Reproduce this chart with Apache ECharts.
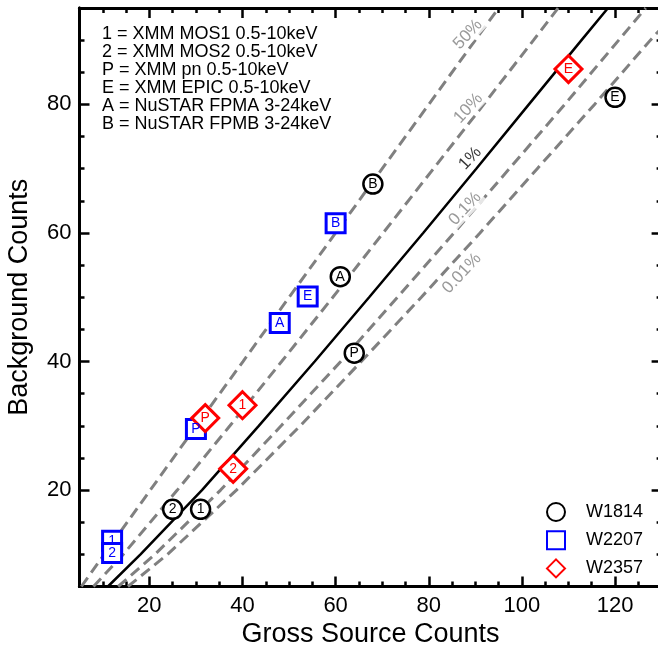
<!DOCTYPE html>
<html>
<head>
<meta charset="utf-8">
<script src="https://cdn.jsdelivr.net/npm/echarts@6/dist/echarts.min.js"></script>
<style>
  html, body { margin: 0; padding: 0; background: #fff; }
  #chart { width: 658px; height: 646px; }
</style>
</head>
<body>
<div id="chart"></div>
<script>
// Axis ticks
const grossMajor = [20, 40, 60, 80, 100, 120];
const grossMinor = [10, 15, 25, 30, 35, 45, 50, 55, 65, 70, 75, 85, 90, 95, 105, 110, 115, 125];
const bkgMajor = [20, 40, 60, 80];
const bkgMinor = [10, 15, 25, 30, 35, 45, 50, 55, 65, 70, 75, 85, 90];

// Probability curves: [gross source counts, background counts]
const curve50  = [[5.4, 5], [10.3, 10], [20.2, 20], [30.1, 30], [40.1, 40], [50.0, 50], [60.0, 60], [70.0, 70], [80.0, 80], [90.0, 90], [95.0, 95]];
const curve10  = [[8.0, 5], [14.4, 10], [26.0, 20], [37.3, 30], [48.4, 40], [59.4, 50], [70.2, 60], [81.0, 70], [91.8, 80], [102.5, 90], [107.8, 95]];
const curve1   = [[11.1, 5], [18.1, 10], [31.3, 20], [43.5, 30], [55.5, 40], [67.2, 50], [78.8, 60], [90.2, 70], [101.5, 80], [112.8, 90], [118.5, 95]];
const curve01  = [[13.3, 5], [21.2, 10], [35.3, 20], [48.3, 30], [61.1, 40], [73.3, 50], [85.4, 60], [97.3, 70], [109.2, 80], [120.8, 90], [126.6, 95]];
const curve001 = [[15.4, 5], [23.9, 10], [38.7, 20], [52.4, 30], [65.5, 40], [78.4, 50], [91.0, 60], [103.3, 70], [115.6, 80], [127.6, 90], [130.0, 91.9]];

// Curve captions and where they sit
const curveCaptions = ['50%', '10%', '1%', '0.1%', '0.01%'];
const captionGross  = [88.4, 88.5, 88.9, 87.8, 87.1];
const captionBkg    = [90.9, 79.4, 71.6, 63.8, 53.7];

// Sources: gross counts, background counts, instrument tag
const w1814Gross = [31, 25, 64, 61, 68, 120];
const w1814Bkg   = [17.0, 17.0, 41.3, 53.2, 67.6, 81.1];
const w1814Tag   = ['1', '2', 'P', 'A', 'B', 'E'];

const w2207Gross = [12, 12, 30, 48, 54, 60];
const w2207Bkg   = [12.1, 10.2, 29.5, 46.0, 50.1, 61.5];
const w2207Tag   = ['1', '2', 'P', 'A', 'E', 'B'];

const w2357Gross = [38, 40, 32, 110];
const w2357Bkg   = [23.3, 33.2, 31.2, 85.5];
const w2357Tag   = ['2', '1', 'P', 'E'];

const keyLines = [
  '1 = XMM MOS1 0.5-10keV',
  '2 = XMM MOS2 0.5-10keV',
  'P = XMM pn 0.5-10keV',
  'E = XMM EPIC 0.5-10keV',
  'A = NuSTAR FPMA 3-24keV',
  'B = NuSTAR FPMB 3-24keV'
];

const FONT = '"Liberation Sans", Arial, Helvetica, sans-serif';
const GRAY = '#808080';

function zip(xs, ys, tags) {
  return xs.map((x, i) => [x, ys[i], tags[i]]);
}

function makeAxis(dim, position, ticks, len, withLabels) {
  const isX = dim === 'x';
  const ax = {
    type: 'value',
    position: position,
    min: 5,
    max: isX ? 130 : 95,
    splitLine: { show: false },
    axisLine: { show: true, onZero: false, lineStyle: { color: '#000', width: 3 } },
    axisTick: { show: true, inside: true, length: len, customValues: ticks, lineStyle: { color: '#000', width: 2.5 } },
    axisLabel: withLabels
      ? { show: true, customValues: ticks, color: '#000', fontSize: 22, fontFamily: FONT, margin: 8 }
      : { show: false }
  };
  if (withLabels) {
    ax.name = isX ? 'Gross Source Counts' : 'Background Counts';
    ax.nameLocation = 'middle';
    ax.nameGap = isX ? 31 : 46;
    ax.nameTextStyle = { color: '#000', fontSize: 27, fontFamily: FONT };
  }
  return ax;
}

function curveSeries(name, data, color, dashed) {
  return {
    name: name,
    type: 'line',
    data: data,
    showSymbol: false,
    silent: true,
    clip: true,
    z: 1,
    lineStyle: { color: color, width: dashed ? 3 : 2.5, type: dashed ? [11, 6] : 'solid' }
  };
}

function sourceSeries(name, data, symbol, size, color, bw) {
  return {
    name: name,
    type: 'scatter',
    data: data,
    symbol: symbol,
    symbolSize: size,
    z: 4,
    itemStyle: { color: '#fff', borderColor: color, borderWidth: bw, opacity: 1 },
    label: {
      show: true, position: 'inside', color: color, fontSize: 14, fontFamily: FONT,
      formatter: p => p.value[2]
    }
  };
}

const chart = echarts.init(document.getElementById('chart'), null, { renderer: 'canvas' });

chart.setOption({
  animation: false,
  backgroundColor: '#fff',
  textStyle: { fontFamily: FONT },
  title: {
    text: keyLines.join('\n'),
    left: 102,
    top: 25.5,
    padding: 0,
    textStyle: { color: '#000', fontSize: 18, fontWeight: 'normal', lineHeight: 18, fontFamily: FONT }
  },
  legend: {
    data: ['W1814', 'W2207', 'W2357'],
    orient: 'vertical',
    left: 546,
    top: 502,
    padding: 0,
    itemWidth: 18,
    itemHeight: 18,
    itemGap: 8.2,
    selectedMode: false,
    textStyle: { color: '#000', fontSize: 18, lineHeight: 18, fontFamily: FONT, padding: [0, 0, 0, 16] }
  },
  grid: { left: 79.5, right: -3.6, top: 8, bottom: 59.5, outerBoundsMode: 'none' },
  xAxis: [
    makeAxis('x', 'bottom', grossMajor, 10, true),
    makeAxis('x', 'bottom', grossMinor, 5, false),
    makeAxis('x', 'top', grossMajor, 10, false),
    makeAxis('x', 'top', grossMinor, 5, false)
  ],
  yAxis: [
    makeAxis('y', 'left', bkgMajor, 10, true),
    makeAxis('y', 'left', bkgMinor, 5, false),
    makeAxis('y', 'right', bkgMajor, 10, false),
    makeAxis('y', 'right', bkgMinor, 5, false)
  ],
  series: [
    curveSeries('50%', curve50, GRAY, true),
    curveSeries('10%', curve10, GRAY, true),
    curveSeries('1%', curve1, '#000', false),
    curveSeries('0.1%', curve01, GRAY, true),
    curveSeries('0.01%', curve001, GRAY, true),
    {
      name: 'captions',
      type: 'scatter',
      silent: true,
      symbolSize: 1,
      z: 2,
      itemStyle: { color: 'rgba(0,0,0,0)' },
      data: curveCaptions.map((t, i) => ({
        name: t,
        value: [captionGross[i], captionBkg[i]],
        label: t === '1%'
          ? { color: '#000', backgroundColor: 'transparent' }
          : { color: GRAY, backgroundColor: '#fff' }
      })),
      label: {
        show: true, position: 'inside', formatter: '{b}', rotate: 47,
        fontSize: 17, fontFamily: FONT, padding: [0, 2]
      }
    },
    sourceSeries('W1814', zip(w1814Gross, w1814Bkg, w1814Tag), 'circle', 19, '#000', 2.5),
    sourceSeries('W2207', zip(w2207Gross, w2207Bkg, w2207Tag), 'rect', 19, '#0000ff', 3),
    sourceSeries('W2357', zip(w2357Gross, w2357Bkg, w2357Tag), 'diamond', 27, '#ff0000', 3)
  ]
});
</script>
</body>
</html>
